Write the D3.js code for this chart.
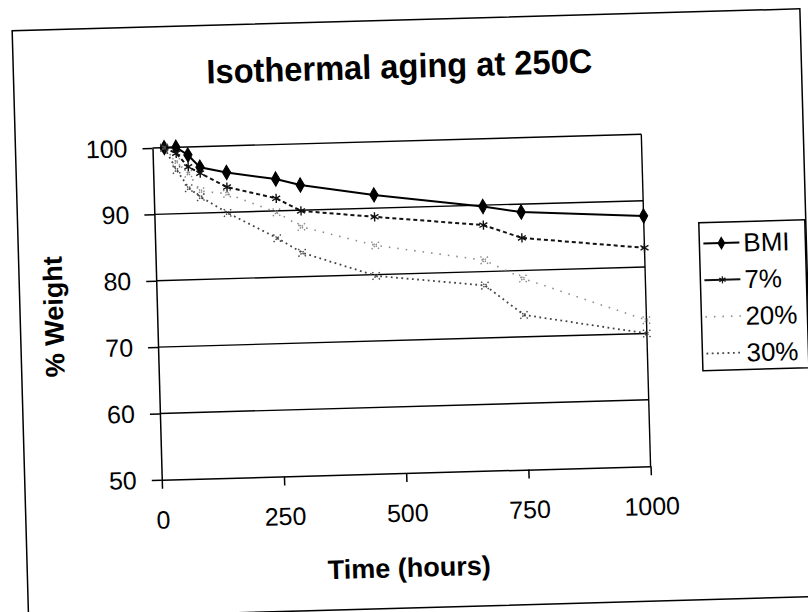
<!DOCTYPE html>
<html>
<head>
<meta charset="utf-8">
<script src="https://cdn.jsdelivr.net/npm/d3@7"></script>
<style>
  body { margin: 0; background: #fff; }
  svg { display: block; font-family: "Liberation Sans", Arial, sans-serif; }
</style>
</head>
<body>
<svg id="chart" width="808" height="612"></svg>
<script>
// values
const hours = [24, 48, 72, 96, 150, 250, 300, 450, 672, 750, 1000];
const bmi = [100, 100, 98.8, 96.9, 96.0, 94.8, 93.8, 92.0, 89.8, 88.8, 87.7];
const pct7 = [100, 99.1, 97.0, 96.0, 93.8, 91.9, 89.9, 88.7, 87.0, 84.9, 82.9];
const pct20 = [100, 97.8, 96.0, 93.3, 92.8, 89.8, 87.5, 84.4, 81.7, 78.8, 72.0];
const pct30 = [100, 96.6, 93.8, 92.4, 89.9, 85.9, 83.6, 79.8, 77.9, 73.3, 70.0];
const seriesNames = ['BMI', '7%', '20%', '30%'];
const xTicks = [0, 250, 500, 750, 1000];
const yTicks = [50, 60, 70, 80, 90, 100];

const plotLeft = 157, plotRight = 646, plotTop = 141, plotBottom = 473;

const svg = d3.select('#chart');
svg.append('rect').attr('width', 808).attr('height', 612).attr('fill', '#fff');

// the scan is tilted a little, so the whole drawing is turned
const root = svg.append('g').attr('transform', 'rotate(-1.6, 404, 306)');

root.append('rect')
  .attr('x', 20).attr('y', 20).attr('width', 788).attr('height', 588)
  .attr('fill', 'none').attr('stroke', '#000').attr('stroke-width', 1.5);

root.append('text')
  .attr('x', 406).attr('y', 78)
  .attr('text-anchor', 'middle')
  .attr('textLength', 386).attr('lengthAdjust', 'spacingAndGlyphs')
  .style('font-size', '34px').style('font-weight', 'bold')
  .text('Isothermal aging at 250C');

const x = d3.scaleLinear().domain([0, 1000]).range([plotLeft, plotRight]);
const y = d3.scaleLinear().domain([50, 100]).range([plotBottom, plotTop]);

// grid lines
root.append('g').selectAll('line').data(yTicks.filter(d => d > 50)).enter().append('line')
  .attr('x1', plotLeft).attr('x2', plotRight)
  .attr('y1', d => y(d)).attr('y2', d => y(d))
  .attr('stroke', '#000').attr('stroke-width', 1.4);

// right border of plot area
root.append('line')
  .attr('x1', plotRight).attr('x2', plotRight).attr('y1', plotTop).attr('y2', plotBottom)
  .attr('stroke', '#000').attr('stroke-width', 1.4);

const yAxis = d3.axisLeft(y).tickValues(yTicks).tickSize(10).tickSizeOuter(0).tickPadding(15);
const xAxis = d3.axisBottom(x).tickValues(xTicks).tickFormat(d3.format('d'))
  .tickSize(9).tickSizeOuter(0).tickPadding(22);

const gy = root.append('g').attr('transform', `translate(${plotLeft},0)`).call(yAxis);
const gx = root.append('g').attr('transform', `translate(0,${plotBottom})`).call(xAxis);
[gx, gy].forEach(g => {
  g.selectAll('path, line').attr('stroke', '#000').attr('stroke-width', 1.5);
  g.selectAll('text').attr('fill', '#000').style('font-size', '25px').style('font-family', '"Liberation Sans", Arial, sans-serif');
});

root.append('text')
  .attr('transform', 'translate(63,307) rotate(-90)')
  .attr('text-anchor', 'middle')
  .style('font-size', '27px').style('font-weight', 'bold')
  .text('% Weight');

root.append('text')
  .attr('x', 402).attr('y', 577)
  .attr('text-anchor', 'middle')
  .style('font-size', '27px').style('font-weight', 'bold')
  .text('Time (hours)');

// series styles
const styles = [
  { values: bmi, stroke: '#000', width: 2, dash: null, symbol: d3.symbolDiamond, size: 60, filled: true },
  { values: pct7, stroke: '#111', width: 2, dash: '4,3', symbol: d3.symbolAsterisk, size: 60, filled: false },
  { values: pct20, stroke: '#8a8a8a', width: 1.6, dash: '1.5,7', symbol: d3.symbolTimes, size: 40, filled: false },
  { values: pct30, stroke: '#444', width: 1.8, dash: '1.8,3.5', symbol: d3.symbolTimes, size: 40, filled: false }
];

const line = d3.line().x(d => x(d[0])).y(d => y(d[1]));

styles.forEach((s, k) => {
  const pts = hours.map((h, i) => [h, s.values[i]]);
  root.append('path')
    .datum(pts)
    .attr('d', line)
    .attr('fill', 'none')
    .attr('stroke', s.stroke)
    .attr('stroke-width', s.width)
    .attr('stroke-dasharray', s.dash);
  root.append('g').selectAll('path').data(pts).enter().append('path')
    .attr('transform', d => `translate(${x(d[0])},${y(d[1])})`)
    .attr('d', d3.symbol().type(s.symbol).size(s.size))
    .attr('fill', s.filled ? s.stroke : 'none')
    .attr('stroke', s.stroke)
    .attr('stroke-width', s.filled ? 1 : 1.4)
    .attr('stroke-dasharray', k >= 2 ? '1.5,1.5' : null);
});

// legend
const legend = root.append('g');
legend.append('rect')
  .attr('x', 701).attr('y', 231).attr('width', 106).attr('height', 148)
  .attr('fill', '#fff').attr('stroke', '#000').attr('stroke-width', 1.5);

const rowY = d3.scalePoint().domain(seriesNames).range([252, 362]);
seriesNames.forEach((name, i) => {
  const s = styles[i];
  const yy = rowY(name);
  legend.append('line')
    .attr('x1', 705).attr('x2', 741).attr('y1', yy).attr('y2', yy)
    .attr('stroke', s.stroke).attr('stroke-width', s.width)
    .attr('stroke-dasharray', i >= 2 ? s.dash : null);
  if (i < 2) {
    legend.append('path')
      .attr('transform', `translate(723,${yy})`)
      .attr('d', d3.symbol().type(s.symbol).size(s.size * 0.6))
      .attr('fill', s.filled ? s.stroke : 'none')
      .attr('stroke', s.stroke).attr('stroke-width', 1.2);
  }
  legend.append('text')
    .attr('x', 745).attr('y', yy + 9)
    .style('font-size', '26px')
    .text(name);
});
</script>
</body>
</html>
